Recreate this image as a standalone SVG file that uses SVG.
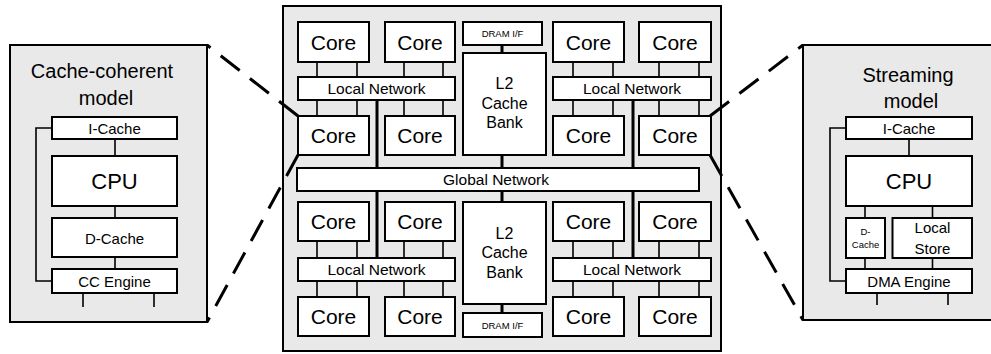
<svg xmlns="http://www.w3.org/2000/svg" width="991" height="354" viewBox="0 0 991 354">
<defs>
<style>
.panel{fill:#e9e9e9;stroke:#000;stroke-width:2}
.box{fill:#fff;stroke:#000;stroke-width:2}
.thin{stroke:#000;stroke-width:1.6;fill:none}
.thick{stroke:#000;stroke-width:3;fill:none}
.dash{stroke:#000;stroke-width:3;fill:none;stroke-dasharray:24 13}
text{font-family:"Liberation Sans",Arial,sans-serif;fill:#000;text-anchor:middle}
.core{font-size:21px}
.net{font-size:15.5px}
.dram{font-size:9.5px}
.l2{font-size:16px}
.title{font-size:20px}
.cpu{font-size:22px}
.m{font-size:15px}
.s{font-size:9.5px}
</style>
</defs>

<!-- panels -->
<g id="left-panel">
<rect class="panel" x="10" y="45" width="197" height="277"/>
<text class="title" x="102" y="78">Cache-coherent</text>
<text class="title" x="106" y="105">model</text>
</g>
<g id="right-panel">
<rect class="panel" x="803" y="45" width="200" height="275"/>
<text class="title" x="908" y="82">Streaming</text>
<text class="title" x="911" y="108">model</text>
</g>
<g id="chip">
<rect class="panel" x="283" y="6" width="438" height="345"/>
</g>

<g id="connectors">
<!-- left panel -->
<path class="thin" d="M115,139V156M115,206V218M115,257V269M52,128H36V281H52M83,293V307M154,293V307"/>
<!-- right panel -->
<path class="thin" d="M909,139V156M865,206V218M932.5,206V218M865,258V269M932.5,258V269M846,128H830V281H846M877,293V305M948,293V305"/>
<!-- core to local network, top -->
<path class="thin" d="M317,62V77M357,62V77M404,62V77M443,62V77M573,62V77M613,62V77M659,62V77M699,62V77"/>
<path class="thin" d="M317,100V116M357,100V116M404,100V116M443,100V116M573,100V116M613,100V116M659,100V116M699,100V116"/>
<!-- core to local network, bottom -->
<path class="thin" d="M317,241V258M357,241V258M404,241V258M443,241V258M573,241V258M613,241V258M659,241V258M699,241V258"/>
<path class="thin" d="M317,281V297M357,281V297M404,281V297M443,281V297M573,281V297M613,281V297M659,281V297M699,281V297"/>
<!-- network trunks -->
<path class="thick" d="M377,100V168M633,100V168M377,191V258M633,191V258"/>
<path class="thick" d="M502,45V53M502,155V168M502,191V202M502,304V313"/>
<!-- zoom lines -->
<path class="dash" d="M298,116L207,45"/>
<path class="dash" d="M298,155L207,322"/>
<path class="dash" d="M710,116L803,45"/>
<path class="dash" d="M710,155L803,320"/>
</g>

<!-- left model -->
<g id="l-icache"><rect class="box" x="52" y="117" width="125" height="22"/><text class="m" x="114.5" y="133.5">I-Cache</text></g>
<g id="l-cpu"><rect class="box" x="52" y="156" width="125" height="50"/><text class="cpu" x="114.5" y="188.5">CPU</text></g>
<g id="l-dcache"><rect class="box" x="52" y="218" width="125" height="39"/><text class="m" x="114.5" y="243.5">D-Cache</text></g>
<g id="l-cc"><rect class="box" x="52" y="269" width="125" height="24"/><text class="m" x="114.5" y="286.5">CC Engine</text></g>

<!-- right model -->
<g id="r-icache"><rect class="box" x="846" y="117" width="126" height="22"/><text class="m" x="909" y="133.5">I-Cache</text></g>
<g id="r-cpu"><rect class="box" x="846" y="156" width="126" height="50"/><text class="cpu" x="909" y="188.5">CPU</text></g>
<g id="r-dcache"><rect class="box" x="846" y="218" width="39" height="40"/><text class="s" x="865.5" y="235">D-</text><text class="s" x="865.5" y="247.5">Cache</text></g>
<g id="r-local"><rect class="box" x="892.5" y="218" width="79.5" height="40"/><text class="m" x="932.5" y="233">Local</text><text class="m" x="932.5" y="253.5">Store</text></g>
<g id="r-dma"><rect class="box" x="846" y="269" width="126" height="24"/><text class="m" x="909" y="286.5">DMA Engine</text></g>

<!-- chip: top half -->
<g id="core-1"><rect class="box" x="298" y="22" width="71" height="40"/><text class="core" x="333.5" y="49.5">Core</text></g>
<g id="core-2"><rect class="box" x="385" y="22" width="70" height="40"/><text class="core" x="420" y="49.5">Core</text></g>
<g id="core-3"><rect class="box" x="553" y="22" width="71" height="40"/><text class="core" x="588.5" y="49.5">Core</text></g>
<g id="core-4"><rect class="box" x="639" y="22" width="72" height="40"/><text class="core" x="675" y="49.5">Core</text></g>
<g id="core-5"><rect class="box" x="298" y="116" width="71" height="39"/><text class="core" x="333.5" y="143">Core</text></g>
<g id="core-6"><rect class="box" x="385" y="116" width="70" height="39"/><text class="core" x="420" y="143">Core</text></g>
<g id="core-7"><rect class="box" x="553" y="116" width="71" height="39"/><text class="core" x="588.5" y="143">Core</text></g>
<g id="core-8"><rect class="box" x="639" y="116" width="72" height="39"/><text class="core" x="675" y="143">Core</text></g>
<g id="lnet-1"><rect class="box" x="298" y="77" width="157" height="23"/><text class="net" x="376.5" y="94">Local Network</text></g>
<g id="lnet-2"><rect class="box" x="553" y="77" width="158" height="23"/><text class="net" x="632" y="94">Local Network</text></g>
<g id="dram-1"><rect class="box" x="463" y="22" width="79" height="23"/><text class="dram" x="502.5" y="37">DRAM I/F</text></g>
<g id="l2-1"><rect class="box" x="463" y="53" width="83" height="102"/><text class="l2" x="504.5" y="89">L2</text><text class="l2" x="504.5" y="108.5">Cache</text><text class="l2" x="504.5" y="128">Bank</text></g>

<g id="gnet"><rect class="box" x="297" y="168" width="402" height="23"/><text class="net" x="496" y="184.5">Global Network</text></g>

<!-- chip: bottom half -->
<g id="core-9"><rect class="box" x="298" y="202" width="71" height="39"/><text class="core" x="333.5" y="229">Core</text></g>
<g id="core-10"><rect class="box" x="385" y="202" width="70" height="39"/><text class="core" x="420" y="229">Core</text></g>
<g id="core-11"><rect class="box" x="553" y="202" width="71" height="39"/><text class="core" x="588.5" y="229">Core</text></g>
<g id="core-12"><rect class="box" x="639" y="202" width="72" height="39"/><text class="core" x="675" y="229">Core</text></g>
<g id="core-13"><rect class="box" x="298" y="297" width="71" height="39"/><text class="core" x="333.5" y="324">Core</text></g>
<g id="core-14"><rect class="box" x="385" y="297" width="70" height="39"/><text class="core" x="420" y="324">Core</text></g>
<g id="core-15"><rect class="box" x="553" y="297" width="71" height="39"/><text class="core" x="588.5" y="324">Core</text></g>
<g id="core-16"><rect class="box" x="639" y="297" width="72" height="39"/><text class="core" x="675" y="324">Core</text></g>
<g id="lnet-3"><rect class="box" x="298" y="258" width="157" height="23"/><text class="net" x="376.5" y="275">Local Network</text></g>
<g id="lnet-4"><rect class="box" x="553" y="258" width="158" height="23"/><text class="net" x="632" y="275">Local Network</text></g>
<g id="l2-2"><rect class="box" x="463" y="202" width="83" height="102"/><text class="l2" x="504.5" y="239">L2</text><text class="l2" x="504.5" y="258">Cache</text><text class="l2" x="504.5" y="277.5">Bank</text></g>
<g id="dram-2"><rect class="box" x="463" y="313" width="79" height="24"/><text class="dram" x="502.5" y="328.5">DRAM I/F</text></g>
</svg>
